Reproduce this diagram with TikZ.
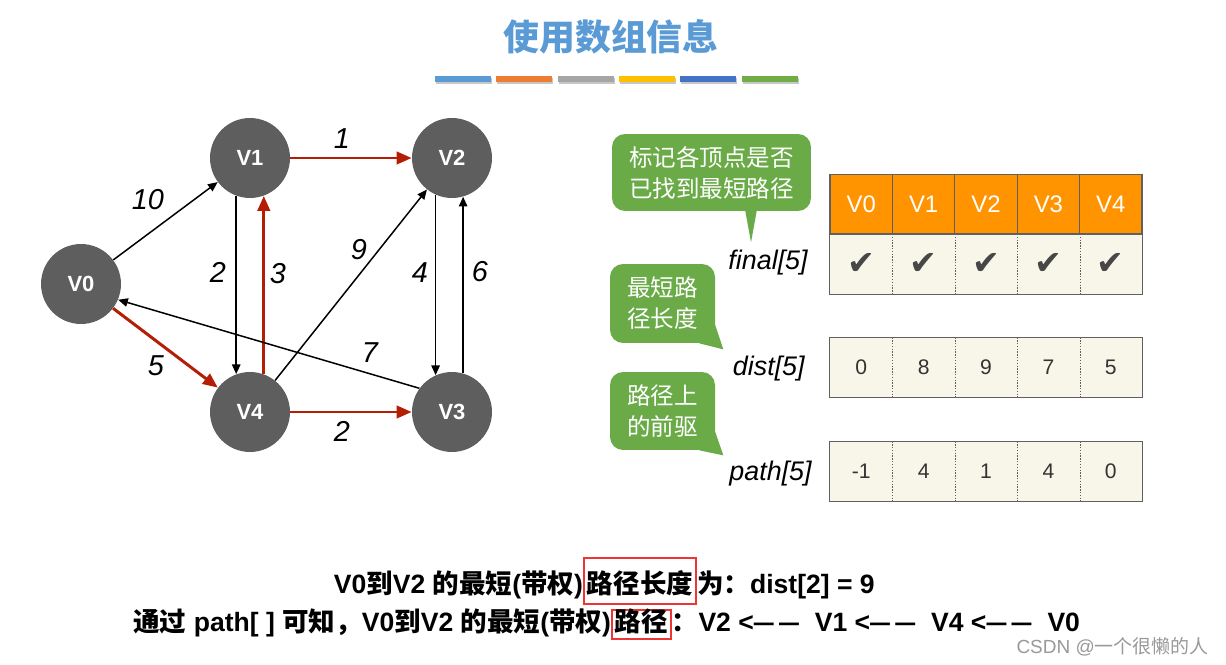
\documentclass[tikz,border=0pt]{standalone}
\usepackage{fontspec}
\setmainfont{Liberation Sans}
\newfontfamily\cjk{Noto Sans CJK SC}
\newfontfamily\symb{DejaVu Sans}
\usetikzlibrary{arrows.meta, positioning, calc}

\definecolor{nodegray}{HTML}{5E5E5E}
\definecolor{pathred}{HTML}{B41E05}
\definecolor{titleblue}{HTML}{5B9BD5}
\definecolor{headorange}{HTML}{FF9300}
\definecolor{cellcream}{HTML}{F8F5E9}
\definecolor{gridgray}{HTML}{606060}
\definecolor{tipgreen}{HTML}{6AAB48}
\definecolor{boxred}{HTML}{EE3535}
\definecolor{barblue}{HTML}{5B9BD5}
\definecolor{barorange}{HTML}{ED7D31}
\definecolor{bargray}{HTML}{A5A5A5}
\definecolor{baryellow}{HTML}{FFC000}
\definecolor{bardarkblue}{HTML}{4472C4}
\definecolor{bargreen}{HTML}{70AD47}

\newcommand\sdash{\scalebox{.75}[1]{—}}

\tikzset{
  vertex/.style={circle, fill=nodegray, minimum size=1.6cm, inner sep=0pt,
    text=white, font=\bfseries\fontsize{12.5}{14}\selectfont},
  blackarrow/.style={-{Triangle[length=5.5pt,width=4.8pt]}, line width=0.85pt},
  redarrow/.style={-{Triangle[length=8.5pt,width=7pt]}, line width=1.7pt, pathred},
  wlabel/.style={font=\itshape\fontsize{16.4}{18}\selectfont, inner sep=0pt},
  headline/.style={text=titleblue, font=\cjk\bfseries\fontsize{20.4}{24}\selectfont},
  bubble/.style={fill=tipgreen, rounded corners=0.26cm, text=white, align=center,
    inner sep=0pt, font=\cjk\fontsize{13.4}{17.6}\selectfont},
  arrname/.style={anchor=east, inner sep=0pt, font=\itshape\fontsize{15.3}{17}\selectfont},
  headcell/.style={draw=gridgray, line width=0.6pt, fill=headorange, text=white,
    minimum width=1.248cm, minimum height=1.19cm, inner sep=0pt,
    font=\fontsize{13.6}{15}\selectfont},
  bodycell/.style={fill=cellcream, text=black!80, minimum width=1.248cm,
    minimum height=1.19cm, inner sep=0pt, font=\fontsize{12}{14}\selectfont},
  checkcell/.style={bodycell, text=black!72, font=\symb\fontsize{19}{19}\selectfont},
  gridline/.style={draw=gridgray, line width=0.6pt},
  dotline/.style={draw=gridgray, line width=0.35pt, dash pattern=on 0.8pt off 0.8pt},
  sumtext/.style={inner sep=0pt, font=\bfseries\fontsize{15.1}{18}\selectfont},
  redbox/.style={draw=boxred, line width=1.1pt, inner xsep=1.5pt, inner ysep=0pt},
  wmtext/.style={anchor=east, inner sep=0pt, text=black!40, font=\fontsize{10.8}{12}\selectfont}
}

\begin{document}
\begin{tikzpicture}[x=0.02cm, y=-0.02cm]
  \path[fill=white] (0,0) rectangle (1226,665);
  \useasboundingbox (0,0) rectangle (1226,665);

  % Titulo
  \node[headline] (titulo) at (611,37) {使用数组信息};
  \foreach \c [count=\i from 0] in {barblue,barorange,bargray,baryellow,bardarkblue,bargreen} {
    \fill[black!22] (436+61.3*\i,78) rectangle ++(56,6);
    \fill[\c] (435+61.3*\i,76) rectangle ++(56,6);
  }

  % Grafo
  \node[vertex] (v0) at (81,284) {V0};
  \node[vertex] (v1) at (250,158) {V1};
  \node[vertex] (v2) at (452,158) {V2};
  \node[vertex] (v4) at (250,412) {V4};
  \node[vertex] (v3) at (452,412) {V3};

  \draw[blackarrow] (v0) -- (v1);
  \draw[redarrow] (v1) -- (v2);
  \draw[blackarrow] (v1.-110) -- (v4.110);
  \draw[redarrow] (v4.70) -- (v1.-70);
  \draw[blackarrow] (v4) -- (v2);
  \draw[blackarrow] (v2.-114) -- (v3.114);
  \draw[blackarrow] (v3.74) -- (v2.-74);
  \draw[blackarrow] (v3.144) -- (v0.-23);
  \draw[redarrow] (v0) -- (v4);
  \draw[redarrow] (v4) -- (v3);

  % Pesos
  \node[wlabel] (w01) at (148,200) {10};
  \node[wlabel] (w12) at (342,139) {1};
  \node[wlabel] (w14) at (218,272) {2};
  \node[wlabel] (w41) at (278,274) {3};
  \node[wlabel] (w42) at (359,250) {9};
  \node[wlabel] (w23) at (420,273) {4};
  \node[wlabel] (w32) at (480,272) {6};
  \node[wlabel] (w30) at (370,353) {7};
  \node[wlabel] (w04) at (156,366) {5};
  \node[wlabel] (w43) at (342,431) {2};

  % Globos
  \node[bubble, minimum width=3.98cm, minimum height=1.54cm] (tip1) at (711.5,172.5)
    {标记各顶点是否\\已找到最短路径};
  \fill[tipgreen] ($(tip1.south)+(33.5,-2)$) -- ($(tip1.south)+(45.5,-2)$)
    -- ($(tip1.south)+(39.5,31)$) -- cycle;
  \node[bubble, minimum width=2.1cm, minimum height=1.58cm] (tip2) at (662.5,303.5)
    {最短路\\径长度};
  \fill[tipgreen] ($(tip2.south east)+(-16,0)$) -- ($(tip2.south east)+(0,-18)$)
    -- ($(tip2.south east)+(8,6)$) -- cycle;
  \node[bubble, minimum width=2.1cm, minimum height=1.56cm] (tip3) at (662.5,411)
    {路径上\\的前驱};
  \fill[tipgreen] ($(tip3.south east)+(-16,0)$) -- ($(tip3.south east)+(0,-18)$)
    -- ($(tip3.south east)+(8,5)$) -- cycle;

  % Tablas
  \node[arrname] (lfinal) at (808,263) {final[5]};
  \node[arrname] (ldist) at (805,369) {dist[5]};
  \node[arrname] (lpath) at (812,474) {path[5]};

  \foreach \v [count=\i from 0] in {V0,V1,V2,V3,V4} {
    \node[checkcell] (f\i) at (861.2+62.4*\i,264) {✔};
    \node[headcell] (h\i) at (861.2+62.4*\i,204.5) {\v};
  }
  \foreach \d [count=\i from 0] in {0,8,9,7,5}
    \node[bodycell] (d\i) at (861.2+62.4*\i,367.5) {\d};
  \foreach \p [count=\i from 0] in {-1,4,1,4,0}
    \node[bodycell] (p\i) at (861.2+62.4*\i,471.5) {\p};

  \foreach \r in {f,d,p} {
    \foreach \i in {0,...,3}
      \draw[dotline] (\r\i.north east) -- (\r\i.south east);
    \draw[gridline] (\r0.north west) rectangle (\r4.south east);
  }

  % Texto inferior
  \node[sumtext, redbox, text height=20.4pt, text depth=6pt] (len) at (640,581) {\cjk 路径长度};
  \node[sumtext, anchor=base east] (l1a) at (len.base west)
    {V0{\cjk 到}V2 {\cjk 的最短}({\cjk 带权})};
  \node[sumtext, anchor=base west] (l1c) at (len.base east) {{\cjk 为：}dist[2] = 9};

  \node[sumtext, redbox, text height=12pt, text depth=4.4pt] (pth) at (641.5,624.5) {\cjk 路径};
  \node[sumtext, anchor=base east] (l2a) at (pth.base west)
    {{\cjk 通过} path[ ] {\cjk 可知，}V0{\cjk 到}V2 {\cjk 的最短}({\cjk 带权})};
  \node[sumtext, anchor=base west] (l2c) at (pth.base east)
    {{\cjk ：}V2 <\sdash\kern.2em\sdash\kern.6em V1 <\sdash\kern.2em\sdash\kern.6em V4
     <\sdash\kern.2em\sdash\kern.6em V0};

  \node[wmtext] (csdn) at (1209,647) {CSDN @{\cjk 一个很懒的人}};
\end{tikzpicture}
\end{document}
